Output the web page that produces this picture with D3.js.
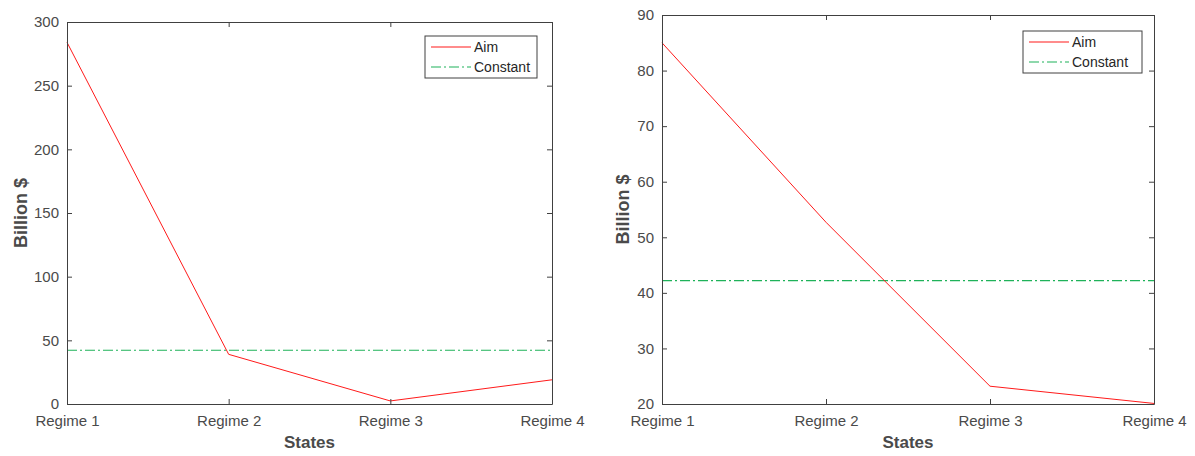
<!DOCTYPE html>
<html><head><meta charset="utf-8">
<script src="https://cdn.jsdelivr.net/npm/d3@7"></script>
<style>body{margin:0;background:#fff}svg{display:block}text{font-family:"Liberation Sans",Arial,sans-serif}</style>
</head><body>
<svg id="c" width="1195" height="456"></svg>
<script>
const categories = ["Regime 1","Regime 2","Regime 3","Regime 4"];
const aimLeft = [284, 39, 2.4, 19];
const constLeft = [42.2, 42.2, 42.2, 42.2];
const yTicksLeft = [0,50,100,150,200,250,300];
const aimRight = [85, 52.7, 23.2, 20.1];
const constRight = [42.2, 42.2, 42.2, 42.2];
const yTicksRight = [20,30,40,50,60,70,80,90];
const seriesNames = ["Aim","Constant"];

const svg = d3.select("#c");
const axisCol = "#404040";
const textCol = "#4a4a4a";

function panel(o){
  const g = svg.append("g");
  const x = d3.scalePoint().domain(categories).range([o.x0,o.x1]);
  const y = d3.scaleLinear().domain(o.dom).range([o.y1,o.y0]);
  const line = d3.line().x((d,i)=>x(categories[i])).y(d=>y(d));
  g.append("path").datum(o.cons).attr("d",line).attr("fill","none")
   .attr("stroke","#1fb25a").attr("stroke-width",1.2).attr("stroke-dasharray","10,3,2,3");
  g.append("path").datum(o.aim).attr("d",line).attr("fill","none")
   .attr("stroke","#ff1a1a").attr("stroke-width",1);
  const ax = (gen, tr, fs) => {
    const a = g.append("g").attr("transform",tr).call(gen);
    a.select(".domain").attr("stroke",axisCol);
    a.selectAll(".tick line").attr("stroke",axisCol);
    a.selectAll("text").attr("fill",textCol).style("font-size",fs);
    return a;
  };
  ax(d3.axisBottom(x).tickSize(-5).tickPadding(11).tickSizeOuter(0), `translate(0,${o.y1})`, "15px");
  ax(d3.axisTop(x).tickSize(-5).tickFormat("").tickSizeOuter(0), `translate(0,${o.y0})`, "15px");
  ax(d3.axisLeft(y).tickValues(o.ticks).tickSize(-5).tickPadding(8).tickSizeOuter(0), `translate(${o.x0},0)`, "15px");
  ax(d3.axisRight(y).tickValues(o.ticks).tickSize(-5).tickFormat("").tickSizeOuter(0), `translate(${o.x1},0)`, "15px");
  g.append("text").attr("x",(o.x0+o.x1)/2).attr("y",448).attr("text-anchor","middle")
   .attr("fill",textCol).style("font-size","17px").style("font-weight","bold").text("States");
  g.append("text").attr("transform",`translate(${o.ylx},${(o.y0+o.y1)/2}) rotate(-90)`).attr("text-anchor","middle")
   .attr("fill",textCol).style("font-size","18px").style("font-weight","bold").text("Billion $");
  const L = o.leg;
  g.append("rect").attr("x",L.x).attr("y",L.y).attr("width",L.w).attr("height",42)
   .attr("fill","#fff").attr("stroke","#404040").attr("stroke-width",1);
  const cols = ["#ff1a1a","#1fb25a"], dash=[null,"10,3,2,3"];
  seriesNames.forEach((n,i)=>{
    const yy = L.y + 11 + i*20;
    g.append("line").attr("x1",L.x+6).attr("x2",L.x+46).attr("y1",yy).attr("y2",yy)
     .attr("stroke",cols[i]).attr("stroke-width",1.2).attr("stroke-dasharray",dash[i]);
    g.append("text").attr("x",L.x+49).attr("y",yy+5).attr("fill","#262626").style("font-size","14px").text(n);
  });
}

panel({x0:67,x1:552,y0:22,y1:404,dom:[0,300],ticks:yTicksLeft,aim:aimLeft,cons:constLeft,ylx:27,leg:{x:425,y:36,w:112}});
panel({x0:662,x1:1154,y0:15,y1:404,dom:[20,90],ticks:yTicksRight,aim:aimRight,cons:constRight,ylx:629,leg:{x:1023,y:31,w:119}});
</script>
</body></html>
